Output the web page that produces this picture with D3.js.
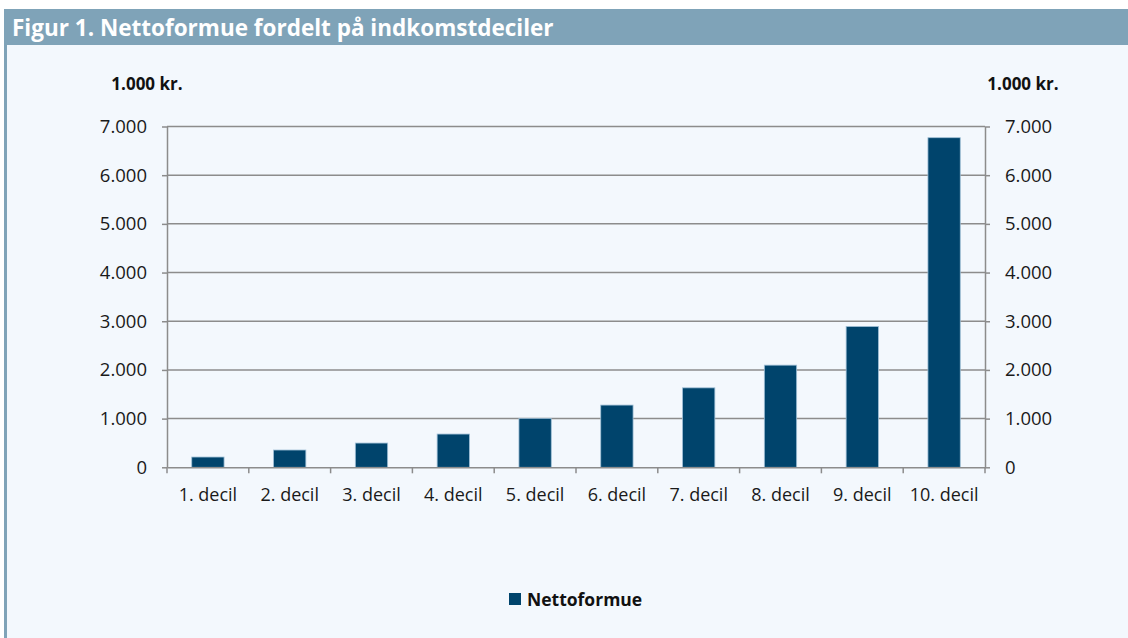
<!DOCTYPE html>
<html><head><meta charset="utf-8">
<script src="https://cdn.jsdelivr.net/npm/d3@7"></script>
<style>
html,body{margin:0;padding:0;background:#fff;}
svg{display:block;font-family:"Open Sans",sans-serif;}
</style></head>
<body>
<svg id="c" width="1128" height="638"></svg>
<script>
const title = "Figur 1. Nettoformue fordelt på indkomstdeciler";
const categories = ["1. decil","2. decil","3. decil","4. decil","5. decil","6. decil","7. decil","8. decil","9. decil","10. decil"];
const nettoformue = [211, 355, 498, 683, 1005, 1278, 1632, 2098, 2892, 6770];
const yTicks = [0, 1000, 2000, 3000, 4000, 5000, 6000, 7000];
const yTickLabels = ["0","1.000","2.000","3.000","4.000","5.000","6.000","7.000"];
const unitLabel = "1.000 kr.";
const seriesName = "Nettoformue";

(function(){
const W = 1128, H = 638;
const svg = d3.select("#c");
const barColor = "#00446c";
const gridColor = "#8c8c8c";
const FONT = "'Open Sans', sans-serif";

// frame
svg.append("rect").attr("x",4).attr("y",9).attr("width",W-4).attr("height",H-9).attr("fill","#f3f8fd");
svg.append("rect").attr("x",4).attr("y",9).attr("width",W-4).attr("height",36).attr("fill","#7fa3b8");
svg.append("rect").attr("x",4).attr("y",45).attr("width",3).attr("height",H-45).attr("fill","#7fa3b8");
svg.append("text").attr("x",12).attr("y",36).attr("fill","#fff")
  .attr("font-size",22.5).attr("font-weight",700).text(title);

const pL = 167, pR = 985, pT = 126.5, pB = 467.3;
const x = d3.scaleBand().domain(categories).range([pL,pR]).paddingInner(0.605).paddingOuter(0.3025);
const y = d3.scaleLinear().domain([0,7000]).range([pB,pT]);

// gridlines
svg.append("g").selectAll("line").data(yTicks.filter(d=>d>0)).join("line")
  .attr("x1",pL).attr("x2",pR).attr("y1",d=>y(d)).attr("y2",d=>y(d))
  .attr("stroke",gridColor).attr("stroke-width",1.5);

// bars
svg.append("g").selectAll("rect").data(nettoformue).join("rect")
  .attr("x",(d,i)=>x(categories[i])).attr("width",x.bandwidth())
  .attr("y",d=>y(d)).attr("height",d=>y(0)-y(d))
  .attr("fill",barColor).attr("stroke","#9fbfd6").attr("stroke-width",0.8);

const fmt = d => yTickLabels[yTicks.indexOf(d)];
const yl = d3.axisLeft(y).tickValues(yTicks).tickFormat(fmt).tickSizeInner(5).tickSizeOuter(0).tickPadding(15);
const yr = d3.axisRight(y).tickValues(yTicks).tickFormat(fmt).tickSizeInner(5).tickSizeOuter(0).tickPadding(15);
function style(g){
  g.select(".domain").attr("stroke",gridColor).attr("stroke-width",1.5);
  g.selectAll(".tick line").attr("stroke",gridColor).attr("stroke-width",1.5);
  g.selectAll(".tick text").attr("fill","#1a1a1a").attr("font-size",18.5).attr("font-family",FONT);
}
svg.append("g").attr("transform",`translate(${pL},0)`).call(yl).call(style);
svg.append("g").attr("transform",`translate(${pR},0)`).call(yr).call(style);

// x axis with ticks at band boundaries
const xa = d3.axisBottom(x).tickSize(0).tickPadding(18);
const gx = svg.append("g").attr("transform",`translate(0,${pB})`).call(xa).call(style);
gx.selectAll(".tick text").attr("dy","0.9em").attr("font-size",18);
const step = x.step();
const bounds = d3.range(categories.length+1).map(i=>pL + i*step);
svg.append("g").selectAll("line").data(bounds).join("line")
  .attr("x1",d=>d).attr("x2",d=>d).attr("y1",pB).attr("y2",pB+6)
  .attr("stroke",gridColor).attr("stroke-width",1.5);

// unit labels
svg.append("text").attr("x",147).attr("y",90).attr("text-anchor","middle")
  .attr("font-size",17).attr("font-weight",700).attr("fill","#111").text(unitLabel);
svg.append("text").attr("x",1023).attr("y",90).attr("text-anchor","middle")
  .attr("font-size",17).attr("font-weight",700).attr("fill","#111").text(unitLabel);

// legend
const lg = svg.append("g").attr("transform","translate(509,593)");
lg.append("rect").attr("width",12).attr("height",12).attr("fill",barColor);
lg.append("text").attr("x",18).attr("y",12.5).attr("font-size",17.5).attr("font-weight",700).attr("fill","#111").text(seriesName);
})();
</script>
</body></html>
